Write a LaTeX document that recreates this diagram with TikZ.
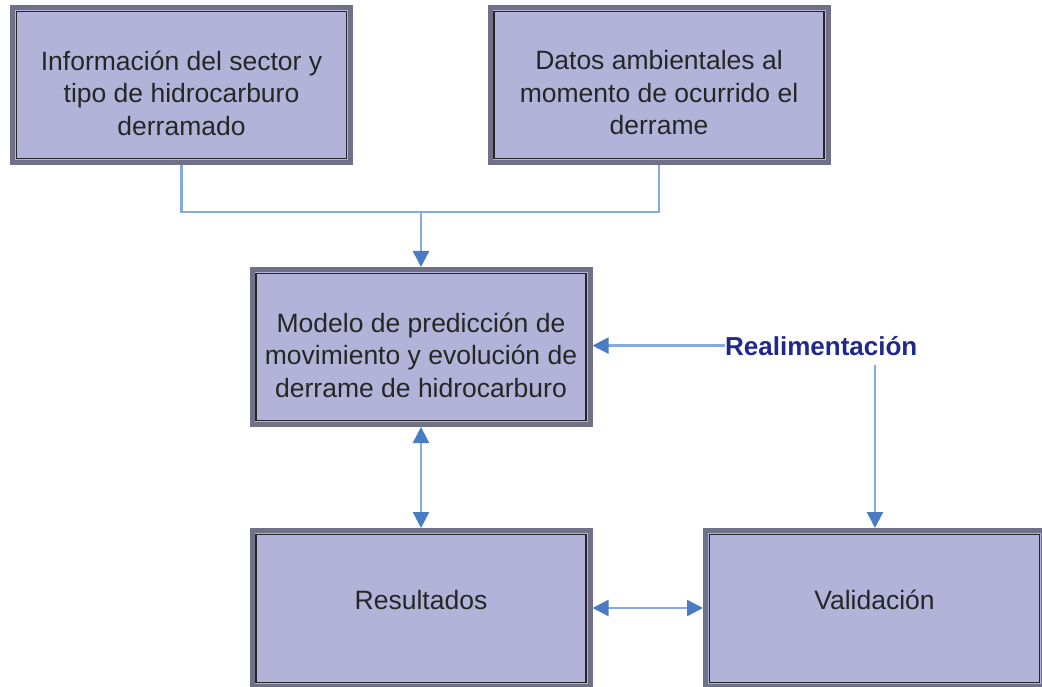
\documentclass[tikz,border=0pt]{standalone}
\usepackage{fontspec}
\setmainfont{Liberation Sans}
\usetikzlibrary{arrows.meta}
\definecolor{boxfill}{HTML}{B3B3D9}
\definecolor{framegray}{HTML}{707088}
\definecolor{lineblue}{HTML}{86AADD}
\definecolor{tipblue}{HTML}{4A7CC4}
\definecolor{txtgray}{HTML}{262626}
\definecolor{navy}{HTML}{20288E}
\tikzset{
  Tp/.tip={Triangle[length=16pt,width=16pt,color=tipblue]},
  flowbox/.style={rectangle, fill=boxfill, draw=framegray, line width=5pt,
    minimum width=338pt, inner sep=0pt,
    path picture={\draw[black!85, line width=1.6pt]
      ([shift={(4pt,-4pt)}]path picture bounding box.north west) rectangle
      ([shift={(-4pt,4pt)}]path picture bounding box.south east);}},
  boxtxt/.style={align=center, text=txtgray, inner sep=0pt,
    font=\fontsize{26.5}{32.5}\selectfont},
  conn/.style={draw=lineblue, line width=2.4pt},
}
\begin{document}
\begin{tikzpicture}[x=1pt,y=-1pt]
\useasboundingbox (0,0) rectangle (1042,687);
\clip (0,0) rectangle (1042,687);
% boxes
\node[flowbox, minimum height=155pt] (b1) at (181.5,85) {};
\node[boxtxt] (t1) at (181.5,93) {Información del sector y\\tipo de hidrocarburo\\derramado};
\node[flowbox, minimum height=155pt] (b2) at (659,85) {};
\node[boxtxt] (t2) at (659,93) {Datos ambientales al\\momento de ocurrido el\\derrame};
\node[flowbox, minimum height=155pt] (mod) at (421,347) {};
\node[boxtxt] (tm) at (421,355) {Modelo de predicción de\\movimiento y evolución de\\derrame de hidrocarburo};
\node[flowbox, minimum height=156pt] (res) at (421,608.5) {};
\node[boxtxt] (tr) at (421,600) {Resultados};
\node[flowbox, minimum height=156pt] (val) at (874.5,608.5) {};
\node[boxtxt] (tv) at (874.5,600) {Validación};
% feedback label
\node[anchor=base west, inner sep=0pt, text=navy,
  font=\fontsize{26}{30}\selectfont\bfseries] (real) at (725,355) {Realimentación};
% connectors
\coordinate (j) at (421,212);
\coordinate (rs) at (875,365);
\draw[conn] (b1.south) -- (b1.south |- j) -- (b2.south |- j) -- (b2.south);
\draw[conn, -Tp] (j) -- (mod.north);
\draw[conn, -Tp] (real.west) -- (real.west -| mod.east);
\draw[conn, -Tp] (rs) -- (rs |- val.north);
\draw[conn, Tp-Tp] (mod.south) -- (res.north);
\draw[conn, Tp-Tp] (res.east |- 0,608) -- (val.west |- 0,608);
\end{tikzpicture}
\end{document}
